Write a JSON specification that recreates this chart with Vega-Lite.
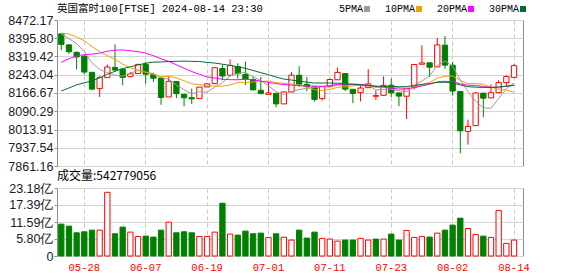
{
  "$schema": "https://vega.github.io/schema/vega-lite/v6.json",
  "padding": {"left": 5, "top": 3, "right": 5, "bottom": 0},
  "background": "#ffffff",
  "spacing": -4,
  "config": {
    "view": {"stroke": "#8c8c8c", "strokeWidth": 1},
    "font": "Liberation Sans",
    "axis": {"labelColor": "#1a1a2a", "tickColor": "#8c8c8c", "gridColor": "#d4d4d4", "labelFont": "Liberation Sans", "labelFontSize": 12.5, "labelOverlap": false, "labelFlush": false},
    "axisY": {"labelOverlap": false, "labelFlush": false, "labelBound": false}
  },
  "datasets": {
    "k": [
      {"d":"05-22","o":8414,"h":8416,"l":8346,"c":8370.33,"v":1085000000,"chg":-46.12,"ma5":8413.98,"ma10":8417.39,"ma20":8294.94,"ma30":8175.16},
      {"d":"05-23","o":8368,"h":8371,"l":8331,"c":8339.23,"v":1018000000,"chg":-31.10,"ma5":8394.09,"ma10":8413.18,"ma20":8309.88,"ma30":8187.76},
      {"d":"05-24","o":8337,"h":8340,"l":8265,"c":8317.59,"v":791000000,"chg":-21.64,"ma5":8373.56,"ma10":8401.56,"ma20":8321.82,"ma30":8200.89},
      {"d":"05-28","o":8321,"h":8325,"l":8244,"c":8254.18,"v":825000000,"chg":-63.41,"ma5":8339.56,"ma10":8385.48,"ma20":8327.53,"ma30":8209.51},
      {"d":"05-29","o":8253,"h":8255,"l":8178,"c":8183.07,"v":882000000,"chg":-71.11,"ma5":8292.88,"ma10":8360.98,"ma20":8329.34,"ma30":8216.76},
      {"d":"05-30","o":8185,"h":8237,"l":8150,"c":8231.05,"v":882000000,"chg":47.98,"ma5":8265.02,"ma10":8339.50,"ma20":8333.68,"ma30":8230.45},
      {"d":"05-31","o":8231,"h":8286,"l":8231,"c":8275.38,"v":2171000000,"chg":44.33,"ma5":8252.25,"ma10":8323.17,"ma20":8341.39,"ma30":8244.69},
      {"d":"06-03","o":8274,"h":8370,"l":8258,"c":8262.75,"v":758000000,"chg":-12.63,"ma5":8241.29,"ma10":8307.42,"ma20":8345.92,"ma30":8257.55},
      {"d":"06-04","o":8266,"h":8267,"l":8199,"c":8232.04,"v":984000000,"chg":-30.71,"ma5":8236.86,"ma10":8288.21,"ma20":8346.85,"ma30":8268.76},
      {"d":"06-05","o":8235,"h":8255,"l":8233,"c":8246.95,"v":814000000,"chg":14.91,"ma5":8249.63,"ma10":8271.26,"ma20":8343.51,"ma30":8276.19},
      {"d":"06-06","o":8248,"h":8290,"l":8247,"c":8285.34,"v":667000000,"chg":38.39,"ma5":8260.49,"ma10":8262.76,"ma20":8340.08,"ma30":8284.21},
      {"d":"06-07","o":8286,"h":8297,"l":8206,"c":8245.37,"v":678000000,"chg":-39.97,"ma5":8254.49,"ma10":8253.37,"ma20":8333.28,"ma30":8291.04},
      {"d":"06-10","o":8244,"h":8252,"l":8213,"c":8228.48,"v":644000000,"chg":-16.89,"ma5":8247.64,"ma10":8244.46,"ma20":8323.01,"ma30":8296.03},
      {"d":"06-11","o":8229,"h":8233,"l":8117,"c":8147.81,"v":882000000,"chg":-80.67,"ma5":8230.79,"ma10":8233.82,"ma20":8309.65,"ma30":8296.30},
      {"d":"06-12","o":8150,"h":8236,"l":8150,"c":8215.48,"v":1153000000,"chg":67.67,"ma5":8224.50,"ma10":8237.07,"ma20":8299.02,"ma30":8298.58},
      {"d":"06-13","o":8215,"h":8216,"l":8145,"c":8163.67,"v":791000000,"chg":-51.81,"ma5":8200.16,"ma10":8230.33,"ma20":8284.91,"ma30":8299.23},
      {"d":"06-14","o":8161,"h":8163,"l":8111,"c":8146.86,"v":825000000,"chg":-16.81,"ma5":8180.46,"ma10":8217.48,"ma20":8270.32,"ma30":8300.08},
      {"d":"06-17","o":8147,"h":8185,"l":8121,"c":8142.15,"v":791000000,"chg":-4.71,"ma5":8163.19,"ma10":8205.42,"ma20":8256.42,"ma30":8299.08},
      {"d":"06-18","o":8143,"h":8191,"l":8142,"c":8191.29,"v":667000000,"chg":49.14,"ma5":8171.89,"ma10":8201.34,"ma20":8244.77,"ma30":8298.34},
      {"d":"06-19","o":8192,"h":8206,"l":8192,"c":8205.11,"v":667000000,"chg":13.82,"ma5":8169.82,"ma10":8197.16,"ma20":8234.21,"ma30":8294.73},
      {"d":"06-20","o":8206,"h":8273,"l":8205,"c":8272.46,"v":814000000,"chg":67.35,"ma5":8191.57,"ma10":8195.87,"ma20":8229.31,"ma30":8292.01},
      {"d":"06-21","o":8269,"h":8286,"l":8220,"c":8237.72,"v":1798000000,"chg":-34.74,"ma5":8209.75,"ma10":8195.10,"ma20":8224.24,"ma30":8287.22},
      {"d":"06-24","o":8241,"h":8307,"l":8238,"c":8281.55,"v":746000000,"chg":43.83,"ma5":8237.63,"ma10":8200.41,"ma20":8222.44,"ma30":8282.14},
      {"d":"06-25","o":8277,"h":8291,"l":8227,"c":8247.79,"v":712000000,"chg":-33.76,"ma5":8248.93,"ma10":8210.41,"ma20":8222.12,"ma30":8276.57},
      {"d":"06-26","o":8244,"h":8298,"l":8199,"c":8225.33,"v":848000000,"chg":-22.46,"ma5":8252.97,"ma10":8211.39,"ma20":8224.23,"ma30":8269.81},
      {"d":"06-27","o":8223,"h":8234,"l":8178,"c":8179.68,"v":758000000,"chg":-45.65,"ma5":8234.41,"ma10":8212.99,"ma20":8221.66,"ma30":8260.94},
      {"d":"06-28","o":8178,"h":8234,"l":8161,"c":8164.12,"v":780000000,"chg":-15.56,"ma5":8219.69,"ma10":8214.72,"ma20":8216.10,"ma30":8251.79},
      {"d":"07-01","o":8161,"h":8213,"l":8160,"c":8166.76,"v":633000000,"chg":2.64,"ma5":8196.74,"ma10":8217.18,"ma20":8211.30,"ma30":8243.34},
      {"d":"07-02","o":8165,"h":8168,"l":8107,"c":8121.20,"v":758000000,"chg":-45.56,"ma5":8171.42,"ma10":8210.17,"ma20":8205.76,"ma30":8233.24},
      {"d":"07-03","o":8121,"h":8173,"l":8121,"c":8171.12,"v":640000000,"chg":49.92,"ma5":8160.58,"ma10":8206.77,"ma20":8201.96,"ma30":8225.06},
      {"d":"07-04","o":8171,"h":8255,"l":8170,"c":8241.26,"v":543000000,"chg":70.14,"ma5":8172.89,"ma10":8203.65,"ma20":8199.76,"ma30":8220.76},
      {"d":"07-05","o":8241,"h":8279,"l":8192,"c":8203.93,"v":882000000,"chg":-37.33,"ma5":8180.85,"ma10":8200.27,"ma20":8197.69,"ma30":8216.25},
      {"d":"07-08","o":8203,"h":8234,"l":8174,"c":8193.49,"v":611000000,"chg":-10.44,"ma5":8186.20,"ma10":8191.47,"ma20":8195.94,"ma30":8212.11},
      {"d":"07-09","o":8192,"h":8193,"l":8131,"c":8139.81,"v":814000000,"chg":-53.68,"ma5":8189.92,"ma10":8180.67,"ma20":8195.54,"ma30":8208.30},
      {"d":"07-10","o":8143,"h":8195,"l":8135,"c":8193.51,"v":599000000,"chg":53.70,"ma5":8194.40,"ma10":8177.49,"ma20":8194.44,"ma30":8208.65},
      {"d":"07-11","o":8195,"h":8227,"l":8194,"c":8223.34,"v":577000000,"chg":29.83,"ma5":8190.82,"ma10":8181.85,"ma20":8197.42,"ma30":8208.39},
      {"d":"07-12","o":8222,"h":8273,"l":8222,"c":8252.91,"v":509000000,"chg":29.57,"ma5":8200.61,"ma10":8190.73,"ma20":8202.73,"ma30":8207.64},
      {"d":"07-15","o":8248,"h":8249,"l":8174,"c":8182.96,"v":543000000,"chg":-69.95,"ma5":8198.51,"ma10":8192.35,"ma20":8204.77,"ma30":8204.98},
      {"d":"07-16","o":8182,"h":8183,"l":8124,"c":8164.90,"v":543000000,"chg":-18.06,"ma5":8203.52,"ma10":8196.72,"ma20":8203.45,"ma30":8202.75},
      {"d":"07-17","o":8168,"h":8199,"l":8131,"c":8187.46,"v":599000000,"chg":22.56,"ma5":8202.31,"ma10":8198.36,"ma20":8202.57,"ma30":8200.76},
      {"d":"07-18","o":8189,"h":8266,"l":8189,"c":8204.89,"v":543000000,"chg":17.43,"ma5":8198.62,"ma10":8194.72,"ma20":8199.19,"ma30":8198.08},
      {"d":"07-19","o":8153,"h":8178,"l":8138,"c":8155.72,"v":577000000,"chg":-49.17,"ma5":8179.19,"ma10":8189.90,"ma20":8195.09,"ma30":8195.09},
      {"d":"07-22","o":8157,"h":8236,"l":8154,"c":8198.78,"v":577000000,"chg":43.06,"ma5":8182.35,"ma10":8190.43,"ma20":8190.95,"ma30":8194.10},
      {"d":"07-23","o":8199,"h":8227,"l":8150,"c":8167.37,"v":746000000,"chg":-31.41,"ma5":8182.84,"ma10":8193.18,"ma20":8186.93,"ma30":8194.75},
      {"d":"07-24","o":8167,"h":8168,"l":8111,"c":8153.69,"v":543000000,"chg":-13.68,"ma5":8176.09,"ma10":8189.20,"ma20":8183.35,"ma30":8192.69},
      {"d":"07-25","o":8153,"h":8186,"l":8058,"c":8186.35,"v":871000000,"chg":32.66,"ma5":8172.38,"ma10":8185.50,"ma20":8183.68,"ma30":8193.45},
      {"d":"07-26","o":8192,"h":8286,"l":8182,"c":8285.71,"v":633000000,"chg":99.36,"ma5":8198.38,"ma10":8188.78,"ma20":8189.76,"ma30":8198.08},
      {"d":"07-29","o":8287,"h":8366,"l":8286,"c":8292.35,"v":667000000,"chg":6.64,"ma5":8217.09,"ma10":8199.72,"ma20":8196.04,"ma30":8203.09},
      {"d":"07-30","o":8293,"h":8293,"l":8233,"c":8274.41,"v":644000000,"chg":-17.94,"ma5":8238.50,"ma10":8210.67,"ma20":8203.70,"ma30":8205.86},
      {"d":"07-31","o":8276,"h":8397,"l":8275,"c":8367.98,"v":780000000,"chg":93.57,"ma5":8281.36,"ma10":8228.73,"ma20":8213.54,"ma30":8211.29},
      {"d":"08-01","o":8367,"h":8405,"l":8268,"c":8283.36,"v":882000000,"chg":-84.62,"ma5":8300.76,"ma10":8236.57,"ma20":8215.65,"ma30":8211.65},
      {"d":"08-02","o":8283,"h":8297,"l":8156,"c":8174.71,"v":1052000000,"chg":-108.65,"ma5":8278.56,"ma10":8238.47,"ma20":8214.19,"ma30":8209.55},
      {"d":"08-05","o":8173,"h":8174,"l":7914,"c":8008.23,"v":1289000000,"chg":-166.48,"ma5":8221.74,"ma10":8219.42,"ma20":8204.92,"ma30":8200.44},
      {"d":"08-06","o":8006,"h":8055,"l":7951,"c":8026.69,"v":938000000,"chg":18.46,"ma5":8172.19,"ma10":8205.35,"ma20":8199.27,"ma30":8193.07},
      {"d":"08-07","o":8030,"h":8171,"l":8030,"c":8166.88,"v":735000000,"chg":140.19,"ma5":8131.97,"ma10":8206.67,"ma20":8197.93,"ma30":8191.12},
      {"d":"08-08","o":8166,"h":8166,"l":8065,"c":8144.97,"v":678000000,"chg":-21.91,"ma5":8104.30,"ma10":8202.53,"ma20":8194.02,"ma30":8189.96},
      {"d":"08-09","o":8146,"h":8203,"l":8146,"c":8168.10,"v":633000000,"chg":23.13,"ma5":8102.97,"ma10":8190.77,"ma20":8189.78,"ma30":8190.09},
      {"d":"08-12","o":8168,"h":8220,"l":8168,"c":8210.28,"v":1549000000,"chg":42.18,"ma5":8143.38,"ma10":8182.56,"ma20":8191.14,"ma30":8191.55},
      {"d":"08-13","o":8210,"h":8241,"l":8192,"c":8235.23,"v":430000000,"chg":24.95,"ma5":8185.09,"ma10":8178.64,"ma20":8194.66,"ma30":8195.35},
      {"d":"08-14","o":8232,"h":8287,"l":8229,"c":8281.05,"v":542779056,"chg":45.82,"ma5":8207.93,"ma10":8169.95,"ma20":8199.34,"ma30":8199.01}
    ]
  },
  "vconcat": [
    {
      "width": 466,
      "height": 146,
      "title": {"text": "英国富时100[FTSE] 2024-08-14 23:30", "anchor": "start", "frame": "group", "font": "Liberation Mono, Noto Sans CJK SC", "fontSize": 10.5, "fontWeight": "normal", "color": "#000000", "offset": 0},
      "data": {"name": "k"},
      "encoding": {
        "x": {
          "field": "d", "type": "ordinal",
          "scale": {"type": "band", "paddingInner": 0.31, "paddingOuter": 0.52, "align": 0.206},
          "axis": {"title": null, "values": ["05-28","06-07","06-19","07-01","07-11","07-23","08-02","08-14"], "labels": false, "ticks": false, "domain": false, "grid": true, "gridDash": [4, 3], "gridColor": "#c8c8c8", "bandPosition": 0.5, "minExtent": 0, "maxExtent": 0}
        }
      },
      "layer": [
        {
          "mark": {"type": "rule", "strokeWidth": 1},
          "encoding": {
            "y": {"field": "l", "type": "quantitative", "title": null,
              "scale": {"domain": [7861.16, 8472.17], "nice": false, "zero": false},
              "axis": {"values": [7861.16, 7937.54, 8013.91, 8090.29, 8166.67, 8243.04, 8319.42, 8395.80, 8472.17], "tickCount": 9, "format": ".2f", "grid": true, "domain": false, "tickSize": 3, "labelPadding": 1, "labelOverlap": false, "labelFlush": false, "labelBound": false, "minExtent": 51, "maxExtent": 51}},
            "y2": {"field": "h"},
            "color": {"condition": {"test": "datum.c >= datum.o", "value": "#ff0000"}, "value": "#008000"}
          }
        },
        {
          "mark": {"type": "bar", "strokeWidth": 1},
          "encoding": {
            "y": {"field": "o", "type": "quantitative", "title": null, "scale": {"domain": [7861.16, 8472.17], "nice": false, "zero": false}},
            "y2": {"field": "c"},
            "fill": {"condition": {"test": "datum.c >= datum.o", "value": "#ffffff"}, "value": "#008000"},
            "stroke": {"condition": {"test": "datum.c >= datum.o", "value": "#ff0000"}, "value": "#008000"}
          }
        },
        {
          "transform": [{"fold": ["ma5", "ma10", "ma20", "ma30"], "as": ["ma", "mv"]}],
          "mark": {"type": "line", "strokeWidth": 1},
          "encoding": {
            "y": {"field": "mv", "type": "quantitative", "title": null, "scale": {"domain": [7861.16, 8472.17], "nice": false, "zero": false}},
            "color": {
              "field": "ma", "type": "nominal",
              "scale": {"domain": ["ma5", "ma10", "ma20", "ma30"], "range": ["#9c9c9c", "#f0a000", "#ff00ff", "#006f2e"]},
              "legend": {"orient": "none", "legendX": 305, "legendY": -16, "direction": "horizontal", "title": null,
                "labelExpr": "{'ma5':'5PMA','ma10':'10PMA','ma20':'20PMA','ma30':'30PMA'}[datum.label]",
                "labelAlign": "right", "labelOffset": -9, "labelFont": "Liberation Mono", "labelFontSize": 10, "labelColor": "#000000",
                "symbolType": "square", "symbolSize": 4, "symbolStrokeWidth": 4, "columnPadding": 8, "padding": 0}
            }
          }
        }
      ]
    },
    {
      "width": 466,
      "height": 68,
      "title": {"text": "成交量:542779056", "anchor": "start", "frame": "group", "font": "Noto Sans CJK SC", "fontSize": 12, "fontWeight": "normal", "color": "#000000", "offset": -1},
      "data": {"name": "k"},
      "mark": {"type": "bar", "strokeWidth": 1},
      "encoding": {
        "x": {
          "field": "d", "type": "ordinal",
          "scale": {"type": "band", "paddingInner": 0.31, "paddingOuter": 0.52, "align": 0.206},
          "axis": {"title": null, "values": ["05-28","06-07","06-19","07-01","07-11","07-23","08-02","08-14"], "labelAngle": 0, "labelColor": "#ff0000", "labelFont": "Liberation Mono", "labelFontSize": 10.5, "ticks": false, "domain": false, "grid": true, "gridDash": [4, 3], "gridColor": "#c8c8c8", "labelPadding": 6, "bandPosition": 0.5}
        },
        "y": {
          "field": "v", "type": "quantitative", "title": null,
          "scale": {"domain": [0, 2318000000], "nice": false},
          "axis": {"values": [0, 580000000, 1159000000, 1739000000, 2318000000], "tickCount": 5, "labelExpr": "datum.value == 0 ? '0' : format(datum.value / 100000000, '.2f') + '亿'", "grid": true, "domain": false, "tickSize": 3, "labelPadding": 1, "labelOverlap": false, "minExtent": 51, "maxExtent": 51}
        },
        "fill": {"condition": {"test": "datum.chg >= 0", "value": "#ffffff"}, "value": "#008000"},
        "stroke": {"condition": {"test": "datum.chg >= 0", "value": "#ff0000"}, "value": "#008000"}
      }
    }
  ]
}
